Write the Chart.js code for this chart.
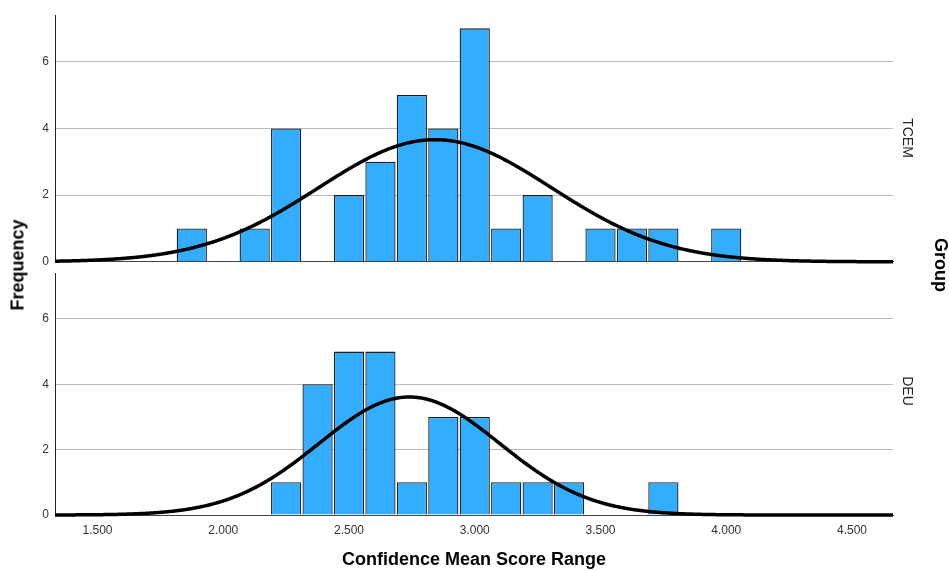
<!DOCTYPE html>
<html>
<head>
<meta charset="utf-8">
<script src="https://cdn.jsdelivr.net/npm/chart.js@4/dist/chart.umd.min.js"></script>
<style>
  html, body { margin: 0; padding: 0; background: #fff; }
  #wrap { position: relative; width: 949px; height: 571px; overflow: hidden; font-family: 'Liberation Sans', Arial, sans-serif; }
  canvas { position: absolute; left: 0; }
  .rot { position: absolute; white-space: nowrap; transform: translate(-50%, -50%) rotate(90deg); }
  .axis-title { font-weight: bold; font-size: 18px; color: #000; }
  .panel-label { font-size: 14px; color: #222; }
</style>
</head>
<body>
<div id="wrap">
  <canvas id="chartTop" width="949" height="275" style="top:0"></canvas>
  <canvas id="chartBottom" width="949" height="311" style="top:260px"></canvas>
  <div class="rot axis-title" style="left:18px;top:265px;transform:translate(-50%,-50%) rotate(-90deg)">Frequency</div>
  <div class="rot axis-title" style="left:940px;top:265px">Group</div>
  <div class="rot panel-label" style="left:908px;top:138px">TCEM</div>
  <div class="rot panel-label" style="left:908px;top:391px">DEU</div>
</div>
<script>
// bins are 0.125 wide, values are the bin centres
const BIN_WIDTH = 0.125;
const tcemBins = [1.875, 2.125, 2.25, 2.5, 2.625, 2.75, 2.875, 3.0, 3.125, 3.25, 3.5, 3.625, 3.75, 4.0];
const tcemCounts = [1, 1, 4, 2, 3, 5, 4, 7, 1, 2, 1, 1, 1, 1];
const deuBins = [2.25, 2.375, 2.5, 2.625, 2.75, 2.875, 3.0, 3.125, 3.25, 3.375, 3.75];
const deuCounts = [1, 4, 5, 5, 1, 3, 3, 1, 1, 1, 1];

// normal curve for each group
const tcemMean = 2.842, tcemSd = 0.463;
const deuMean = 2.740, deuSd = 0.359;

const xTicks = [1.5, 2.0, 2.5, 3.0, 3.5, 4.0, 4.5];
const yTicks = [0, 2, 4, 6];
const X_MIN = 1.331, X_MAX = 4.663, Y_MAX = 7.4;

Chart.defaults.font.family = "'Liberation Sans', Arial, sans-serif";
Chart.defaults.font.size = 12;
Chart.defaults.color = '#333';

const sum = arr => arr.reduce((a, b) => a + b, 0);

// draws the fitted normal curve over the bars
const normalCurve = {
  id: 'normalCurve',
  afterDatasetsDraw(chart, args, opts) {
    const { ctx, chartArea, scales: { x, y } } = chart;
    const peak = opts.n * BIN_WIDTH / (opts.sd * Math.sqrt(2 * Math.PI));
    ctx.save();
    ctx.beginPath();
    ctx.rect(chartArea.left, chartArea.top - 3, chartArea.width, chartArea.height + 6);
    ctx.clip();
    ctx.beginPath();
    for (let px = chartArea.left; px <= chartArea.right; px++) {
      const z = (x.getValueForPixel(px) - opts.mean) / opts.sd;
      const py = y.getPixelForValue(peak * Math.exp(-0.5 * z * z));
      if (px === chartArea.left) ctx.moveTo(px, py);
      else ctx.lineTo(px, py);
    }
    ctx.strokeStyle = '#000';
    ctx.lineWidth = 3.5;
    ctx.lineJoin = 'round';
    ctx.stroke();
    ctx.restore();
  }
};

function makePanel(canvasId, bins, counts, mean, sd, showXLabels) {
  const pad = showXLabels
    ? { left: 35, right: 56, top: 8, bottom: 0 }
    : { left: 35, right: 56, top: 15, bottom: 13 };

  return new Chart(document.getElementById(canvasId), {
    type: 'bar',
    data: {
      datasets: [{
        data: bins.map((b, i) => ({ x: b, y: counts[i] })),
        backgroundColor: '#33adff',
        borderColor: '#1e1e1e',
        borderWidth: 1.3,
        categoryPercentage: 1.0,
        barPercentage: 0.96
      }]
    },
    options: {
      responsive: false,
      animation: false,
      devicePixelRatio: 1,
      layout: { padding: pad },
      plugins: {
        legend: { display: false },
        tooltip: { enabled: false },
        normalCurve: { mean: mean, sd: sd, n: sum(counts) }
      },
      scales: {
        x: {
          type: 'linear',
          offset: false,
          min: X_MIN,
          max: X_MAX,
          afterBuildTicks: s => { s.ticks = xTicks.map(v => ({ value: v })); },
          afterFit: s => { s.height = showXLabels ? 56 : 0; },
          grid: { display: false, drawTicks: false, offset: false },
          border: { display: true, color: '#444', width: 1 },
          ticks: {
            display: showXLabels,
            padding: 8,
            maxRotation: 0,
            autoSkip: false,
            color: '#333',
            callback: v => Number(v).toFixed(3)
          },
          title: {
            display: showXLabels,
            text: 'Confidence Mean Score Range',
            color: '#000',
            font: { size: 18, weight: 'bold' },
            padding: 0
          }
        },
        y: {
          min: 0,
          max: Y_MAX,
          afterBuildTicks: s => { s.ticks = yTicks.map(v => ({ value: v })); },
          afterFit: s => { s.width = 20; },
          grid: { color: '#bababa', lineWidth: 1, drawTicks: false },
          border: { display: true, color: '#222', width: 1 },
          ticks: { padding: 6, color: '#333' }
        }
      }
    },
    plugins: [normalCurve]
  });
}

makePanel('chartTop', tcemBins, tcemCounts, tcemMean, tcemSd, false);
makePanel('chartBottom', deuBins, deuCounts, deuMean, deuSd, true);
</script>
</body>
</html>
